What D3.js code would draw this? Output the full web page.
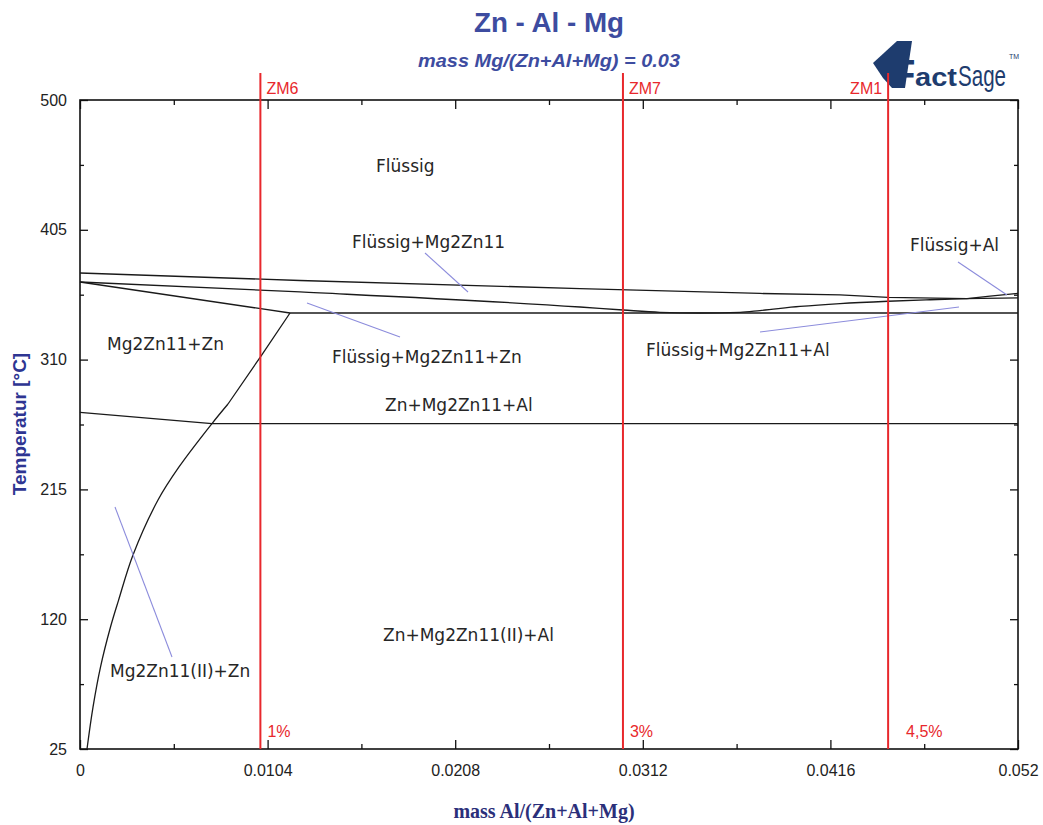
<!DOCTYPE html>
<html>
<head>
<meta charset="utf-8">
<script src="https://cdn.jsdelivr.net/npm/d3@7"></script>
<style>
  html, body { margin: 0; padding: 0; background: #fff; }
  svg { display: block; }
  .tick text { font-family: "Liberation Sans", Arial, sans-serif; font-size: 16px; fill: #222; }
  .region { font-family: "DejaVu Sans", sans-serif; font-size: 17px; fill: #262626; }
</style>
</head>
<body>
<svg id="chart" width="1043" height="825"></svg>
<script>
// Zn-Al-Mg isopleth at 3 wt% Mg, FactSage style.
const X_DOMAIN = [0, 0.052];
const Y_DOMAIN = [25, 500];
const xMajor = [0, 0.0104, 0.0208, 0.0312, 0.0416, 0.052];
const xLabels = ['0', '0.0104', '0.0208', '0.0312', '0.0416', '0.052'];
const xMinor = [0.0052, 0.0156, 0.026, 0.0364, 0.0468];
const yMajor = [25, 120, 215, 310, 405, 500];
const yMinor = [72.5, 167.5, 262.5, 357.5, 452.5];

// phase boundaries, [mass Al, T °C]
const liquidusMg2Zn11 = [[0, 373.4], [0.012196, 367.9], [0.027719, 362.0], [0.037697, 358.4],
  [0.042132, 357.3], [0.044793, 355.6], [0.049173, 354.7]];
const liquidusAl = [[0.049173, 354.7], [0.050448, 356.5], [0.052, 358.5]];
const valleyLine = [[0, 366.8], [0.012196, 359.5], [0.027719, 348.5], [0.030102, 346.3],
  [0.032153, 344.6], [0.034371, 344.1], [0.036588, 344.6], [0.037697, 345.9],
  [0.039915, 348.9], [0.042132, 351.0], [0.044793, 352.7], [0.047121, 353.8],
  [0.049173, 354.7], [0.052, 355.2]];
const znLine = [[0, 366.8], [0.011642, 344.1]];
const eutectic = [[0.011642, 344.1], [0.052, 344.1]];
const solvusLeft = [[0, 271.3], [0.007318, 263.2]];
const transition = [[0.007318, 263.2], [0.052, 263.2]];
const solvusTop = [[0.011642, 344.1], [0.010034, 312.6], [0.008205, 277.5]];
const solvusCurve = [[0.008205, 277.5], [0.007318, 263.2], [0.005488, 231.4], [0.004324, 207.2],
  [0.002938, 167.0], [0.002140, 134.0], [0.001691, 114.3], [0.001136, 85.0],
  [0.000721, 55.7], [0.000388, 25]];

// region labels: text, x, T (baseline start)
const regionNames = ['Flüssig', 'Flüssig+Mg2Zn11', 'Flüssig+Al', 'Mg2Zn11+Zn', 'Flüssig+Mg2Zn11+Zn',
  'Flüssig+Mg2Zn11+Al', 'Zn+Mg2Zn11+Al', 'Zn+Mg2Zn11(II)+Al', 'Mg2Zn11(II)+Zn'];
const regionX = [0.01641, 0.01508, 0.04601, 0.001497, 0.01397, 0.03138, 0.01691, 0.0168, 0.001663];
const regionT = [447.3, 391.7, 389.5, 317.0, 307.5, 312.6, 272.4, 104.0, 77.7];

// leader lines [[x1,T1],[x2,T2]]
const leaders = [
  [[0.019126, 388.0], [0.02151, 359.5]],
  [[0.048674, 381.4], [0.05139, 357.3]],
  [[0.012584, 351.4], [0.01774, 326.5]],
  [[0.037697, 330.2], [0.048729, 348.5]],
  [[0.00194, 202.1], [0.0051, 92.3]],
];

// alloy markers
const alloyNames = ['ZM6', 'ZM7', 'ZM1'];
const alloyX = [0.01, 0.0301, 0.0448];
const alloyPct = ['1%', '3%', '4,5%'];

const svg = d3.select('#chart');
const M = { left: 80, right: 1018, top: 100, bottom: 749 };
const x = d3.scaleLinear().domain(X_DOMAIN).range([M.left, M.right]);
const y = d3.scaleLinear().domain(Y_DOMAIN).range([M.bottom, M.top]);

// titles
svg.append('text')
  .attr('x', 549).attr('y', 32).attr('text-anchor', 'middle')
  .style('font-family', '"Liberation Sans", Arial, sans-serif')
  .style('font-size', '28px').style('font-weight', 'bold').style('fill', '#3d4ca0')
  .attr('textLength', 150).attr('lengthAdjust', 'spacingAndGlyphs')
  .text('Zn - Al - Mg');
svg.append('text')
  .attr('x', 549).attr('y', 67).attr('text-anchor', 'middle')
  .style('font-family', '"Liberation Sans", Arial, sans-serif')
  .style('font-size', '19px').style('font-weight', 'bold').style('font-style', 'italic')
  .style('fill', '#3d4ca0')
  .attr('textLength', 262).attr('lengthAdjust', 'spacingAndGlyphs')
  .text('mass Mg/(Zn+Al+Mg) = 0.03');

// FactSage logo
const navy = '#1e3c6e';
const logo = svg.append('g');
logo.append('path')
  .attr('d', 'M873,63 L897,41 L912,41 L905,88 L892,88 L883,78 Z')
  .attr('fill', navy);
logo.append('text').attr('x', 891).attr('y', 88)
  .style('font-family', '"Liberation Sans", Arial, sans-serif')
  .style('font-size', '40px').style('font-weight', 'bold').style('fill', navy)
  .text('F');
logo.append('text').attr('x', 915).attr('y', 86)
  .style('font-family', '"Liberation Sans", Arial, sans-serif')
  .style('font-size', '26px').style('font-weight', 'bold').style('fill', navy)
  .attr('textLength', 42).attr('lengthAdjust', 'spacingAndGlyphs').text('act');
logo.append('text').attr('x', 958).attr('y', 86)
  .style('font-family', '"Liberation Sans", Arial, sans-serif')
  .style('font-size', '30px').style('fill', navy)
  .attr('textLength', 48).attr('lengthAdjust', 'spacingAndGlyphs').text('Sage');
logo.append('text').attr('x', 1009).attr('y', 59)
  .style('font-family', '"Liberation Sans", Arial, sans-serif')
  .style('font-size', '7px').style('fill', navy).text('TM');

// axes (ticks point inward)
function noLabels(a) { return a.tickFormat('').tickSizeOuter(0); }
svg.append('g').attr('transform', `translate(0,${M.bottom})`)
  .call(d3.axisBottom(x).tickValues(xMajor).tickSizeInner(-9).tickSizeOuter(0).tickPadding(16)
    .tickFormat((d, i) => xLabels[i]));
svg.append('g').attr('transform', `translate(0,${M.bottom})`)
  .call(noLabels(d3.axisBottom(x).tickValues(xMinor).tickSizeInner(-5)));
svg.append('g').attr('transform', `translate(0,${M.top})`)
  .call(noLabels(d3.axisTop(x).tickValues(xMajor).tickSizeInner(-9)));
svg.append('g').attr('transform', `translate(0,${M.top})`)
  .call(noLabels(d3.axisTop(x).tickValues(xMinor).tickSizeInner(-5)));
svg.append('g').attr('transform', `translate(${M.left},0)`)
  .call(d3.axisLeft(y).tickValues(yMajor).tickSizeInner(-8).tickSizeOuter(0).tickPadding(13)
    .tickFormat(d3.format('d')));
svg.append('g').attr('transform', `translate(${M.left},0)`)
  .call(noLabels(d3.axisLeft(y).tickValues(yMinor).tickSizeInner(-4)));
svg.append('g').attr('transform', `translate(${M.right},0)`)
  .call(noLabels(d3.axisRight(y).tickValues(yMajor).tickSizeInner(-8)));
svg.append('g').attr('transform', `translate(${M.right},0)`)
  .call(noLabels(d3.axisRight(y).tickValues(yMinor).tickSizeInner(-4)));
svg.selectAll('.domain').remove();
svg.selectAll('.tick line').attr('stroke', '#111').attr('stroke-width', 1.3);

svg.append('rect')
  .attr('x', M.left).attr('y', M.top)
  .attr('width', M.right - M.left).attr('height', M.bottom - M.top)
  .attr('fill', 'none').attr('stroke', '#111').attr('stroke-width', 1.6);

// axis titles
svg.append('text')
  .attr('transform', 'translate(26,424) rotate(-90)').attr('text-anchor', 'middle')
  .style('font-family', '"Liberation Sans", Arial, sans-serif')
  .style('font-size', '19px').style('font-weight', 'bold').style('fill', '#2e3592')
  .text('Temperatur [°C]');
svg.append('text')
  .attr('x', 544).attr('y', 818).attr('text-anchor', 'middle')
  .style('font-family', '"Liberation Serif", "Times New Roman", serif')
  .style('font-size', '20px').style('font-weight', 'bold').style('fill', '#2b2f7a')
  .text('mass Al/(Zn+Al+Mg)');

// phase boundaries
const line = d3.line().x((d) => x(d[0])).y((d) => y(d[1]));
const bounds = svg.append('g').attr('fill', 'none').attr('stroke', '#1a1a1a').attr('stroke-width', 1.3);
[liquidusMg2Zn11, liquidusAl, znLine, eutectic, solvusLeft, transition, solvusTop].forEach((pts) => {
  bounds.append('path').attr('d', line(pts));
});
bounds.append('path').attr('d', line.curve(d3.curveMonotoneX)(valleyLine));
bounds.append('path').attr('d', line.curve(d3.curveCatmullRom.alpha(0.5))(solvusCurve));

// leader lines
svg.append('g').selectAll('line').data(leaders).join('line')
  .attr('x1', (d) => x(d[0][0])).attr('y1', (d) => y(d[0][1]))
  .attr('x2', (d) => x(d[1][0])).attr('y2', (d) => y(d[1][1]))
  .attr('stroke', '#8c8cdc').attr('stroke-width', 1.1);

// region labels
svg.append('g').selectAll('text').data(regionNames).join('text')
  .attr('class', 'region')
  .attr('x', (d, i) => x(regionX[i])).attr('y', (d, i) => y(regionT[i]))
  .text((d) => d);

// red alloy lines
const red = '#e8282c';
const alloys = svg.append('g');
alloys.selectAll('line').data(alloyX).join('line')
  .attr('x1', (d) => x(d)).attr('x2', (d) => x(d))
  .attr('y1', 73).attr('y2', M.bottom)
  .attr('stroke', red).attr('stroke-width', 2);
alloys.selectAll('text.name').data(alloyNames).join('text')
  .attr('class', 'name')
  .attr('x', (d, i) => x(alloyX[i]) + (i === 2 ? -6 : 6))
  .attr('y', 94)
  .attr('text-anchor', (d, i) => (i === 2 ? 'end' : 'start'))
  .style('font-family', '"Liberation Sans", Arial, sans-serif').style('font-size', '16px')
  .style('fill', red).text((d) => d);
alloys.selectAll('text.pct').data(alloyPct).join('text')
  .attr('class', 'pct')
  .attr('x', (d, i) => x(alloyX[i]) + (i === 2 ? 18 : 7))
  .attr('y', 737)
  .style('font-family', '"Liberation Sans", Arial, sans-serif').style('font-size', '16px')
  .style('fill', red).text((d) => d);
</script>
</body>
</html>
